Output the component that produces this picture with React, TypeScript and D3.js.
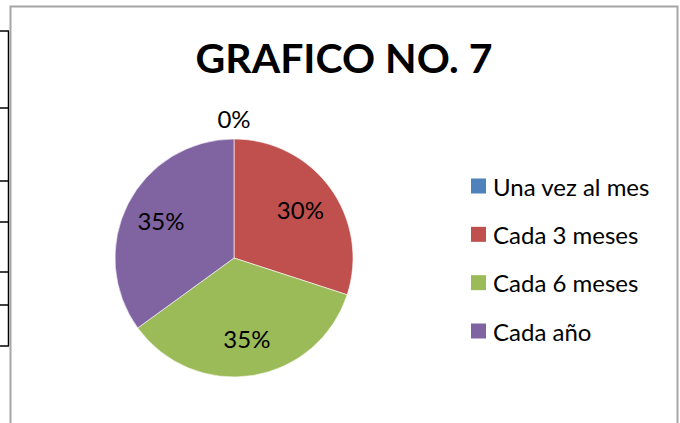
import React from 'react';
import * as d3 from 'd3';

const categories = ['Una vez al mes', 'Cada 3 meses', 'Cada 6 meses', 'Cada año'];
const values = [0, 30, 35, 35];
const colors = ['#4F81BD', '#C0504D', '#9BBB59', '#8064A2'];
const title = 'GRAFICO NO. 7';
// bits of the spreadsheet table peeking in on the left
const tableRows = [31, 108, 181, 222, 272, 305, 346];

const W = 680;
const H = 423;
const FONT = 'Lato, Carlito, Calibri, sans-serif';

const App: React.FC = () => {
  const cx = 234;
  const cy = 258;
  const r = 119;

  const data = categories.map((c, i) => ({ label: c, value: values[i], color: colors[i] }));
  const pie = d3.pie<any>().value(d => d.value).sort(null);
  const arcs = pie(data);
  const arc = d3.arc<any>().innerRadius(0).outerRadius(r);
  const labelArc = d3.arc<any>().innerRadius(82).outerRadius(82);
  const outerArc = d3.arc<any>().innerRadius(r + 21).outerRadius(r + 21);

  const legendY = d3.scalePoint<string>().domain(categories).range([186, 331]);

  return (
    <svg width={W} height={H} style={{ position: 'absolute', left: 0, top: 0, background: '#fff' }}>
      {/* table lines */}
      <g stroke="#000" strokeWidth={1.5}>
        <line x1={8.5} x2={8.5} y1={tableRows[0]} y2={tableRows[tableRows.length - 1]} />
        {tableRows.map(y => (
          <line key={y} x1={0} x2={9} y1={y} y2={y} />
        ))}
      </g>
      {/* chart frame */}
      <rect x={10.5} y={6.5} width={667} height={H + 20} fill="#fff" stroke="#a6a6a6" strokeWidth={2} />

      <text x={344} y={73} textAnchor="middle" fontFamily={FONT} fontWeight="bold" fontSize={41} fill="#000">
        {title}
      </text>

      <g transform={`translate(${cx},${cy})`}>
        {arcs.map((a, i) => (
          <path key={i} d={arc(a) || ''} fill={a.data.color} stroke="#fff" strokeWidth={0.6} />
        ))}
        {arcs.map((a, i) => {
          const pos = a.data.value === 0 ? outerArc.centroid(a) : labelArc.centroid(a);
          return (
            <text key={'l' + i} x={pos[0]} y={pos[1]} textAnchor="middle" dominantBaseline="central"
              fontFamily={FONT} fontSize={24} fill="#000">
              {`${a.data.value}%`}
            </text>
          );
        })}
      </g>

      <g>
        {categories.map((c, i) => (
          <g key={c} transform={`translate(471,${legendY(c)})`}>
            <rect x={0} y={-7.5} width={15} height={15} fill={colors[i]} />
            <text x={22} y={0} dominantBaseline="central" fontFamily={FONT} fontSize={24} fill="#000">
              {c}
            </text>
          </g>
        ))}
      </g>
    </svg>
  );
};

export default App;
